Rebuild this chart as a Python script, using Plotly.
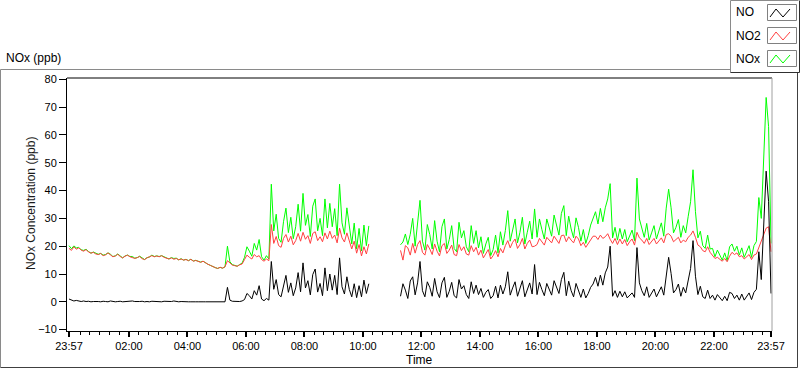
import plotly.graph_objects as go

# ---------------- data (5-minute readings, minutes after 23:57) ----------------
STEP_MIN = 5
N = None

no2 = [
    19.2, 18.5, 19.8, 18.9, 19.4, 18.6, 18.2, 18.8, 17.9, 17.5, 17.8, 17.2,
    17.0, 17.4, 16.6, 16.9, 17.6, 16.8, 16.2, 16.5, 17.1, 16.3, 15.8, 16.4,
    16.8, 16.2, 16.0, 15.6, 15.9, 16.3, 15.5, 15.2, 15.8, 16.1, 16.6, 16.2,
    16.5, 16.2, 16.6, 16.0, 15.7, 15.4, 15.8, 15.3, 15.6, 15.1, 15.4, 15.0,
    15.2, 14.8, 15.3, 14.6, 14.9, 14.5, 14.2, 14.6, 13.9, 13.5, 13.1, 12.6,
    12.3, 12.0, 12.4, 12.1, 12.6, 14.8, 13.8, 13.2, 13.0, 12.8, 13.3, 13.6,
    15.2, 16.8, 16.0, 15.4, 17.0, 16.2, 16.6, 15.2, 14.6, 15.4, 14.8, 27.8,
    21.0, 23.5, 20.2, 19.6, 22.8, 24.2, 21.5, 23.6, 20.5, 22.0, 24.6, 21.8,
    25.0, 22.5, 23.8, 21.0, 24.6, 25.2, 22.0, 23.4, 21.6, 24.8, 22.6, 25.4,
    22.8, 24.0, 21.2, 26.5, 23.0, 21.5, 24.8, 22.0, 19.0, 21.8, 17.5, 20.6,
    16.5, 19.8, 17.2, 20.8, N, N, N, N, N, N, N, N,
    N, N, N, N, 18.5, 15.0, 20.2, 19.4, 16.8, 21.0, 17.5, 20.6,
    22.0, 17.8, 16.8, 20.6, 19.0, 17.0, 20.8, 18.2, 16.5, 20.2, 21.0, 17.4,
    18.6, 20.4, 17.0, 16.6, 20.6, 18.4, 19.8, 17.2, 16.8, 20.2, 18.0, 19.6,
    16.8, 18.6, 15.8, 17.4, 18.8, 15.4, 16.6, 18.4, 16.2, 19.2, 17.6, 20.2,
    22.0, 19.4, 21.4, 22.6, 19.2, 20.6, 22.8, 19.0, 21.0, 22.2, 19.8, 20.0,
    20.6, 22.8, 21.6, 20.4, 23.2, 22.0, 21.2, 23.6, 22.4, 21.0, 23.8, 24.0,
    21.6, 23.4, 22.2, 21.2, 23.6, 22.6, 20.2, 21.4, 19.6, 20.8, 22.4, 23.6,
    23.6, 22.4, 24.0, 22.8, 23.4, 24.5, 22.5, 21.0, 22.8, 20.6, 22.6, 20.8,
    22.4, 20.2, 21.6, 22.6, 20.4, 25.0, 23.0, 22.2, 21.0, 22.8, 20.6, 21.8,
    22.8, 20.8, 21.8, 23.0, 21.2, 24.2, 24.5, 23.6, 21.6, 22.4, 23.2, 21.2,
    22.2, 21.6, 23.2, 24.0, 25.5, 23.2, 20.4, 19.8, 18.4, 18.0, 19.8, 17.8,
    16.8, 15.6, 16.0, 15.2, 14.6, 15.6, 14.4, 16.4, 17.8, 17.0, 17.6, 16.2,
    16.6, 15.4, 16.2, 17.0, 15.2, 16.8, 17.2, 19.5, 22.0, 24.5, 26.5, 27.0,
    18.0,
]

no = [
    1.0, 0.6, 0.3, 0.5, 0.2, 0.1, 0.3, 0.1, 0.2, 0.0, 0.1, 0.2,
    0.1, 0.0, 0.2, 0.1, 0.0, 0.3, 0.1, 0.0, 0.1, 0.2, 0.0, 0.1,
    0.0, 0.1, 0.3, 0.1, 0.0, 0.1, 0.2, 0.0, 0.1, 0.0, 0.2, 0.1,
    0.0, 0.1, 0.0, 0.2, 0.1, 0.0, 0.1, 0.3, 0.1, 0.0, 0.1, 0.0,
    0.1, 0.0, 0.0, 0.1, 0.0, 0.0, 0.1, 0.0, 0.0, 0.0, 0.0, 0.0,
    0.0, 0.0, 0.0, 0.0, 0.0, 5.2, 0.6, 0.2, 0.1, 0.0, 0.1, 0.3,
    0.8, 3.0, 2.2, 1.0, 4.0, 2.4, 5.8, 1.0, 0.4, 1.2, 0.6, 14.5,
    4.5, 8.0, 2.6, 1.8, 6.0, 9.5, 3.4, 6.8, 2.2, 5.0, 10.5, 3.6,
    14.0, 5.0, 7.6, 2.5, 9.8, 11.8, 3.5, 6.6, 2.2, 12.2, 4.0, 10.0,
    4.2, 9.5, 2.6, 15.8, 5.4, 2.8, 9.0, 4.4, 1.8, 6.5, 1.5, 5.8,
    1.8, 7.8, 3.0, 6.5, N, N, N, N, N, N, N, N,
    N, N, N, N, 2.0, 6.5, 4.2, 1.2, 7.5, 9.0, 2.5, 6.8,
    14.5, 4.0, 1.8, 7.2, 5.2, 2.0, 8.4, 3.6, 1.5, 6.8, 8.8, 1.6,
    3.8, 7.0, 2.2, 1.4, 8.0, 4.6, 5.8, 2.6, 1.2, 7.2, 3.0, 6.0,
    2.6, 4.8, 1.6, 3.4, 4.4, 1.2, 2.2, 5.6, 1.4, 6.0, 2.8, 5.4,
    10.8, 2.4, 5.0, 7.2, 2.0, 4.4, 7.6, 1.8, 4.0, 6.8, 2.8, 13.4,
    2.6, 7.0, 4.4, 2.2, 6.6, 4.8, 2.4, 7.6, 5.0, 3.0, 8.0, 10.6,
    2.2, 7.4, 4.0, 1.8, 6.6, 4.2, 1.6, 4.6, 1.4, 3.0, 5.2, 6.4,
    8.8, 5.6, 9.6, 6.0, 10.4, 12.5, 20.0, 2.0, 4.0, 1.6, 3.8, 1.8,
    3.6, 1.4, 2.4, 3.2, 1.6, 19.5, 6.8, 4.0, 2.2, 5.4, 1.6, 3.0,
    4.6, 1.8, 3.4, 5.4, 2.4, 9.5, 16.0, 10.2, 3.2, 4.4, 6.4, 2.0,
    5.2, 3.2, 7.4, 12.0, 22.0, 9.2, 2.6, 5.6, 1.8, 1.2, 4.2, 1.2,
    2.4, 0.6, 2.6, 1.4, 0.4, 2.0, 0.4, 3.4, 3.0, 1.2, 2.4, 0.6,
    2.8, 0.6, 1.8, 3.2, 0.8, 3.4, 4.5, 18.0, 8.0, 30.0, 47.0, 36.0,
    3.0,
]

nox = [
    20.2, 19.1, 20.1, 19.4, 19.6, 18.7, 18.5, 18.9, 18.1, 17.5, 17.9, 17.4,
    17.1, 17.4, 16.8, 17.0, 17.6, 17.1, 16.3, 16.5, 17.2, 16.5, 15.8, 16.5,
    16.8, 16.3, 16.3, 15.7, 15.9, 16.4, 15.7, 15.2, 15.9, 16.1, 16.8, 16.3,
    16.5, 16.3, 16.6, 16.2, 15.8, 15.4, 15.9, 15.6, 15.7, 15.1, 15.5, 15.0,
    15.3, 14.8, 15.3, 14.7, 14.9, 14.5, 14.3, 14.6, 13.9, 13.5, 13.1, 12.6,
    12.3, 12.0, 12.4, 12.1, 12.6, 20.0, 14.4, 13.4, 13.1, 12.8, 13.4, 13.9,
    16.0, 19.8, 18.2, 16.4, 21.0, 18.6, 22.4, 16.2, 15.0, 16.6, 15.4, 42.3,
    25.5, 31.5, 22.8, 21.4, 28.8, 33.7, 24.9, 30.4, 22.7, 27.0, 35.1, 25.4,
    39.0, 27.5, 31.4, 23.5, 34.4, 37.0, 25.5, 30.0, 23.8, 37.0, 26.6, 35.4,
    27.0, 33.5, 23.8, 42.3, 28.4, 24.3, 33.8, 26.4, 20.8, 28.3, 19.0, 26.4,
    18.3, 27.6, 20.2, 27.3, N, N, N, N, N, N, N, N,
    N, N, N, N, 20.5, 21.5, 24.4, 20.6, 24.3, 30.0, 20.0, 27.4,
    36.5, 21.8, 18.6, 27.8, 24.2, 19.0, 29.2, 21.8, 18.0, 27.0, 29.8, 19.0,
    22.4, 27.4, 19.2, 18.0, 28.6, 23.0, 25.6, 19.8, 18.0, 27.4, 21.0, 25.6,
    19.4, 23.4, 17.4, 20.8, 23.2, 16.6, 18.8, 24.0, 17.6, 25.2, 20.4, 25.6,
    32.8, 21.8, 26.4, 29.8, 21.2, 25.0, 30.4, 20.8, 25.0, 29.0, 22.6, 33.4,
    23.2, 29.8, 26.0, 22.6, 29.8, 26.8, 23.6, 31.2, 27.4, 24.0, 31.8, 34.6,
    23.8, 30.8, 26.2, 23.0, 30.2, 26.8, 21.8, 26.0, 21.0, 23.8, 27.6, 30.0,
    32.4, 28.0, 33.6, 28.8, 33.8, 37.0, 42.5, 23.0, 26.8, 22.2, 26.4, 22.6,
    26.0, 21.6, 24.0, 25.8, 22.0, 44.5, 29.8, 26.2, 23.2, 28.2, 22.2, 24.8,
    27.4, 22.6, 25.2, 28.4, 23.6, 33.7, 40.5, 33.8, 24.8, 26.8, 29.6, 23.2,
    27.4, 24.8, 30.6, 36.0, 47.5, 32.4, 23.0, 25.4, 20.2, 19.2, 24.0, 19.0,
    19.2, 16.2, 18.6, 16.6, 15.0, 17.6, 14.8, 19.8, 20.8, 18.2, 20.0, 16.8,
    19.4, 16.0, 18.0, 20.2, 16.0, 20.2, 21.7, 37.5, 30.0, 54.5, 73.5, 63.0,
    21.0,
]

minutes = [i * STEP_MIN for i in range(len(no2))]

tick_minutes = [0, 123, 243, 363, 483, 603, 723, 843, 963, 1083, 1203, 1323, 1440]
tick_labels = ["23:57", "02:00", "04:00", "06:00", "08:00", "10:00", "12:00",
               "14:00", "16:00", "18:00", "20:00", "22:00", "23:57"]
y_ticks = [-10, 0, 10, 20, 30, 40, 50, 60, 70, 80]

series_names = ["NO", "NO2", "NOx"]
series_colors = ["#000000", "#ff4040", "#00ff00"]

# ---------------- layout helpers ----------------
W, H = 800, 369
PL, PR, PT, PB = 67, 772, 78, 331  # plot area in pixels


def px(X):
    return (X - PL) / (PR - PL)


def py(Y):
    return (PB - Y) / (PB - PT)


FONT = "Liberation Sans, Arial, sans-serif"

fig = go.Figure()
# draw order: NOx under NO2 under NO
for name, ys, col in [("NOx", nox, series_colors[2]),
                      ("NO2", no2, series_colors[1]),
                      ("NO", no, series_colors[0])]:
    fig.add_trace(go.Scatter(x=minutes, y=ys, mode="lines", name=name,
                             line=dict(color=col, width=1),
                             connectgaps=False, showlegend=False,
                             hoverinfo="skip"))

minor_vals = [m for m in range(23, 1440, 20) if (m - 3) % 120 != 0]

fig.update_layout(
    width=W, height=H,
    margin=dict(l=PL, r=W - PR, t=PT, b=H - PB),
    paper_bgcolor="white", plot_bgcolor="white",
    font=dict(family=FONT, size=12, color="#000000"),
    showlegend=False,
    xaxis=dict(range=[-4.1, 1442.0], tickmode="array", tickvals=tick_minutes,
               ticktext=tick_labels, ticks="outside", ticklen=5, tickwidth=2,
               tickcolor="black", showgrid=False, zeroline=False,
               showline=True, linecolor="black", linewidth=1,
               tickfont=dict(size=11, family=FONT),
               minor=dict(tickmode="array", tickvals=minor_vals, ticks="outside",
                          ticklen=3, tickwidth=1, tickcolor="black",
                          showgrid=False)),
    yaxis=dict(range=[-10.5, 80.5], tickmode="array", tickvals=y_ticks,
               ticks="outside", ticklen=7, tickwidth=1, tickcolor="black",
               showgrid=False, zeroline=False, showline=True,
               linecolor="black", linewidth=1,
               tickfont=dict(size=11, family=FONT)),
)

shapes = []
# plot-area top (black) and right (gray) borders
shapes.append(dict(type="line", xref="paper", yref="paper", x0=0, x1=1, y0=1, y1=1,
                   line=dict(color="black", width=1)))
shapes.append(dict(type="line", xref="paper", yref="paper", x0=1, x1=1, y0=0, y1=1,
                   line=dict(color="#a0a0a0", width=1)))
# outer panel frame
shapes.append(dict(type="path", xref="paper", yref="paper",
                   path=f"M {px(731)},{py(69.5)} L {px(0.5)},{py(69.5)} L {px(0.5)},{py(367.5)}",
                   line=dict(color="#8a8a8a", width=1)))
shapes.append(dict(type="path", xref="paper", yref="paper",
                   path=f"M {px(0.5)},{py(367.5)} L {px(797.5)},{py(367.5)} L {px(797.5)},{py(72)}",
                   line=dict(color="#404040", width=1)))
# legend box
shapes.append(dict(type="path", xref="paper", yref="paper",
                   path=f"M {px(730.5)},{py(72.5)} L {px(730.5)},{py(0.5)} L {px(798.5)},{py(0.5)}",
                   line=dict(color="#8a8a8a", width=1)))
shapes.append(dict(type="path", xref="paper", yref="paper",
                   path=f"M {px(730.5)},{py(72.5)} L {px(799.5)},{py(72.5)} L {px(799.5)},{py(0.5)}",
                   line=dict(color="#303030", width=1)))

annotations = []
legend_rows = [(4.5, 20.5), (27.5, 43.5), (50.5, 66.5)]
for (name, col), (yt, yb) in zip(zip(series_names, series_colors), legend_rows):
    shapes.append(dict(type="rect", xref="paper", yref="paper",
                       x0=px(767.5), x1=px(796.5), y0=py(yb), y1=py(yt),
                       line=dict(color="#808080", width=1), fillcolor="white"))
    lo, hi = yb - 3.5, yt + 4.5
    shapes.append(dict(type="path", xref="paper", yref="paper",
                       path=(f"M {px(770)},{py(lo)} L {px(776)},{py(hi)} "
                             f"L {px(783)},{py(lo)} L {px(790)},{py(hi)}"),
                       line=dict(color=col, width=1)))
    annotations.append(dict(xref="paper", yref="paper", x=px(734), y=py((yt + yb) / 2),
                            xanchor="left", yanchor="middle", text=name,
                            showarrow=False, font=dict(size=12, family=FONT)))

annotations.append(dict(xref="paper", yref="paper", x=px(4), y=py(58),
                        xanchor="left", yanchor="middle", text="NOx (ppb)",
                        showarrow=False, font=dict(size=12, family=FONT)))
annotations.append(dict(xref="paper", yref="paper", x=px(31), y=py(204),
                        xanchor="center", yanchor="middle", textangle=-90,
                        text="NOx Concentration (ppb)", showarrow=False,
                        font=dict(size=12, family=FONT, color="#1a1a1a")))
annotations.append(dict(xref="paper", yref="paper", x=px(419.5), y=py(360),
                        xanchor="center", yanchor="middle", text="Time",
                        showarrow=False, font=dict(size=12, family=FONT)))

fig.update_layout(shapes=shapes, annotations=annotations)

fig.write_html("out.html", config={"displayModeBar": False})

# remove the browser's default body margin so the figure sits at (0, 0)
with open("out.html", "r", encoding="utf-8") as f:
    html = f.read()
html = html.replace("<body>", '<body style="margin:0;padding:0;">', 1)
html = html.replace("<head>", "<head><style>html,body{margin:0;padding:0;}</style>", 1)
with open("out.html", "w", encoding="utf-8") as f:
    f.write(html)
